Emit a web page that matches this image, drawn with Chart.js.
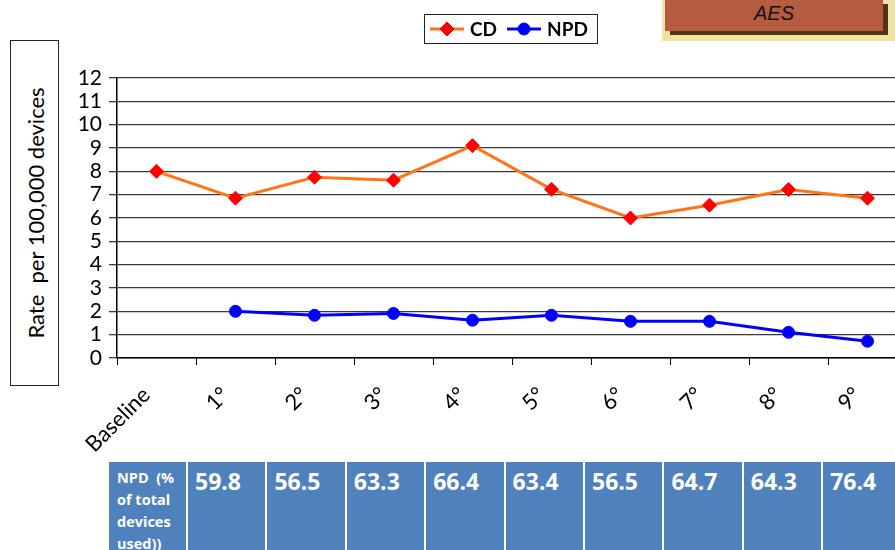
<!DOCTYPE html>
<html>
<head>
<meta charset="utf-8">
<script src="https://cdn.jsdelivr.net/npm/chart.js@4.4.1/dist/chart.umd.min.js"></script>
<style>
  html, body { margin: 0; padding: 0; background: #fff; width: 895px; height: 550px; overflow: hidden; }
  #wrap { position: absolute; left: 0; top: 0; width: 915px; height: 455px; }
  #ytitle {
    position: absolute; left: 10px; top: 40px; width: 49px; height: 346px;
    border: 1px solid #222; box-sizing: border-box;
  }
  #ytitle span {
    position: absolute; left: 50%; top: 50%; white-space: nowrap;
    transform: translate(-50%, -50%) rotate(-90deg);
    font-family: Lato, "Open Sans", sans-serif; font-size: 22px; color: #000;
  }
  #badge-bg { position: absolute; left: 662px; top: 0; width: 233px; height: 41px; background: #efe3a0; }
  #badge {
    position: absolute; left: 665px; top: 0; width: 218px; height: 31px;
    background: #b65a40; box-shadow: 5px 4px 0 #4f3416;
    font-family: "Liberation Sans", Arial, sans-serif; font-style: italic; font-size: 20px;
    color: #111; text-align: center; line-height: 26px;
  }
  .cell {
    position: absolute; top: 462px; height: 100px; background: #4f81bd; color: #fff;
    font-family: "Open Sans", Lato, sans-serif; font-weight: bold; box-sizing: border-box;
  }
  .cell.head { font-size: 14.5px; line-height: 22px; padding: 5px 0 0 8px; white-space: pre; }
  .cell.val { font-size: 23px; padding: 4px 0 0 7px; line-height: 30px; }
</style>
</head>
<body>
<div id="badge-bg"></div>
<div id="badge">AES</div>
<div id="ytitle"><span>Rate&nbsp;&nbsp;per 100,000 devices</span></div>
<div id="wrap"><canvas id="c" width="915" height="455"></canvas></div>
<div id="table"></div>
<script>
// Follow-up periods on the category axis
const periods = ['Baseline', '1°', '2°', '3°', '4°', '5°', '6°', '7°', '8°', '9°'];
// Rates per 100,000 devices
const cdRates  = [8.0, 6.85, 7.75, 7.62, 9.1, 7.23, 6.0, 6.55, 7.22, 6.85];
const npdRates = [null, 2.0, 1.83, 1.91, 1.62, 1.83, 1.57, 1.57, 1.1, 0.72];
// NPD share of total devices used, per period 1°..9°
const npdShareHeader = ['NPD  (%', 'of total', 'devices', 'used))'];
const npdShare = ['59.8', '56.5', '63.3', '66.4', '63.4', '56.5', '64.7', '64.3', '76.4'];
const yTicks = { min: 0, max: 12, step: 1 };

// Table of NPD shares beneath the chart
const table = document.getElementById('table');
const head = document.createElement('div');
head.className = 'cell head';
head.style.left = '109px'; head.style.width = '77px';
head.textContent = npdShareHeader.join('\n');
table.appendChild(head);
npdShare.forEach((v, i) => {
  const d = document.createElement('div');
  d.className = 'cell val';
  d.style.left = (188 + i * 79.4) + 'px';
  d.style.width = (i === npdShare.length - 1 ? 120 : 77.4) + 'px';
  d.textContent = v;
  table.appendChild(d);
});

// Boxed legend with line + marker samples
const boxedLegend = {
  id: 'boxedLegend',
  afterDraw(chart) {
    const ctx = chart.ctx;
    ctx.save();
    ctx.strokeStyle = '#222'; ctx.lineWidth = 1;
    ctx.strokeRect(424.5, 14.5, 173, 29);
    const items = [
      { ds: chart.data.datasets[0], x: 430, tx: 470 },
      { ds: chart.data.datasets[1], x: 507, tx: 547 }
    ];
    items.forEach(it => {
      const y = 29;
      ctx.strokeStyle = it.ds.borderColor; ctx.lineWidth = 3;
      ctx.beginPath(); ctx.moveTo(it.x, y); ctx.lineTo(it.x + 34, y); ctx.stroke();
      ctx.fillStyle = it.ds.pointBackgroundColor; ctx.strokeStyle = it.ds.pointBorderColor; ctx.lineWidth = 1;
      Chart.helpers.drawPoint(ctx, { pointStyle: it.ds.pointStyle, radius: it.ds.pointRadius, borderWidth: 1 }, it.x + 17, y);
      ctx.fillStyle = '#000';
      ctx.font = 'bold 19px Lato, "Open Sans", sans-serif';
      ctx.textBaseline = 'middle'; ctx.textAlign = 'left';
      ctx.fillText(it.ds.label, it.tx, y + 1);
    });
    ctx.restore();
  }
};

new Chart(document.getElementById('c'), {
  type: 'line',
  data: {
    labels: periods,
    datasets: [
      {
        label: 'CD', data: cdRates,
        borderColor: '#ff7414', borderWidth: 3,
        pointStyle: 'rectRot', pointRadius: 7,
        pointBackgroundColor: '#ff0000', pointBorderColor: '#ff0000', pointBorderWidth: 1,
        tension: 0
      },
      {
        label: 'NPD', data: npdRates,
        borderColor: '#0000ff', borderWidth: 3,
        pointStyle: 'circle', pointRadius: 6,
        pointBackgroundColor: '#0000ff', pointBorderColor: '#0000ff', pointBorderWidth: 1,
        tension: 0
      }
    ]
  },
  options: {
    responsive: false,
    devicePixelRatio: 1,
    animation: false,
    layout: { padding: { top: 78, right: 3, left: 0, bottom: 0 } },
    plugins: { legend: { display: false }, tooltip: { enabled: false } },
    scales: {
      x: {
        offset: true,
        grid: { offset: true, drawOnChartArea: false, color: '#000', tickLength: 7, tickWidth: 1 },
        border: { color: '#000', width: 1.5 },
        ticks: {
          color: '#000', font: { family: 'Lato, "Open Sans", sans-serif', size: 22 },
          maxRotation: 45, minRotation: 45, padding: 17, labelOffset: -10, autoSkip: false
        },
        afterFit(s) { s.height = 97; }
      },
      y: {
        min: yTicks.min, max: yTicks.max,
        grid: { color: '#3a3a3a', lineWidth: 1.3, tickLength: 8 },
        border: { color: '#000', width: 1.5 },
        ticks: {
          stepSize: yTicks.step, color: '#000', padding: 7, autoSkip: false,
          font: { family: 'Lato, "Open Sans", sans-serif', size: 21 }
        },
        afterFit(s) { s.width = 117; }
      }
    }
  },
  plugins: [boxedLegend]
});
</script>
</body>
</html>
